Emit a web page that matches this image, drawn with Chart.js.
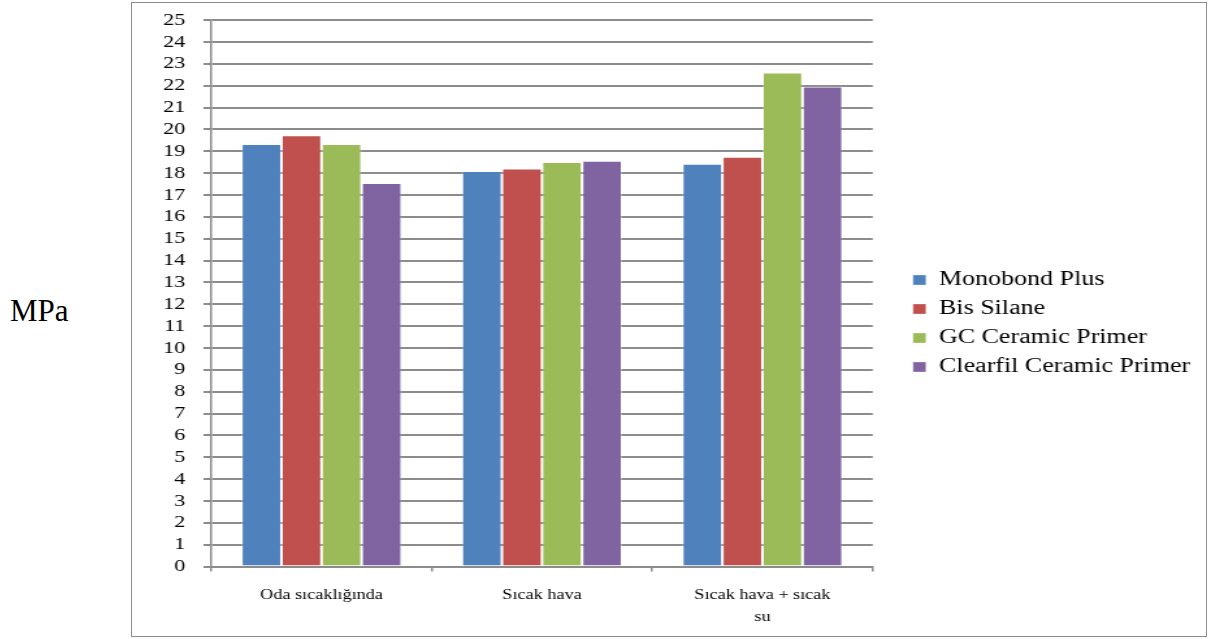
<!DOCTYPE html>
<html lang="tr">
<head>
  <meta charset="UTF-8" />
  <title>MPa</title>
  <script src="https://cdn.jsdelivr.net/npm/chart.js"></script>
  <style>
    body { margin: 0; background: #fff; width: 1213px; height: 639px; position: relative; overflow: hidden; }
    #unit { position: absolute; left: 10px; top: 295px; line-height: 1; font-family: "Liberation Serif", serif; font-size: 31px; color: #000; }
    #frame { position: absolute; left: 131px; top: 2px; width: 1074px; height: 633px; border: 1px solid #8c8c8c; overflow: hidden; }
    /* the original picture is stretched sideways, so the chart is drawn narrow and widened */
    #myChart { margin-top: -7px; transform: scaleX(1.3); transform-origin: 0 0; }
  </style>
</head>
<body>
  <span id="unit">MPa</span>
  <div id="frame">
    <canvas id="myChart" width="826" height="645"></canvas>
  </div>

  <script>
    const categories = ['Oda sıcaklığında', 'Sıcak hava', ['Sıcak hava + sıcak', 'su']];
    const seriesNames = ['Monobond Plus', 'Bis Silane', 'GC Ceramic Primer', 'Clearfil Ceramic Primer'];
    const monobond = [19.33, 18.10, 18.43];
    const bisSilane = [19.74, 18.22, 18.75];
    const gcPrimer = [19.33, 18.51, 22.61];
    const clearfil = [17.55, 18.57, 21.97];
    const yTicks = { min: 0, max: 25, step: 1 };

    const colors = ['#4f81bd', '#c0504d', '#9bbb59', '#8064a2'];
    const values = [monobond, bisSilane, gcPrimer, clearfil];

    // leave some space between the plot and the legend
    const legendGap = {
      id: 'legendGap',
      afterInit(chart) {
        const fit = chart.legend.fit;
        chart.legend.fit = function () { fit.call(this); this.width += 22; };
      },
      afterLayout(chart) {
        chart.legend.left += 22;
        chart.legend.top += 2;
      }
    };

    const ctx = document.getElementById('myChart').getContext('2d');
    new Chart(ctx, {
      type: 'bar',
      data: {
        labels: categories,
        datasets: seriesNames.map((name, i) => ({
          label: name,
          data: values[i],
          backgroundColor: colors[i],
          borderColor: 'rgba(255,255,255,0.3)',
          borderWidth: 1,
          barPercentage: 1,
          categoryPercentage: 0.727
        }))
      },
      plugins: [legendGap],
      options: {
        responsive: false,
        animation: false,
        layout: { padding: { left: 10, top: 8, right: 2, bottom: 0 } },
        plugins: {
          tooltip: { enabled: false },
          legend: {
            position: 'right',
            maxWidth: 400,
            labels: {
              boxWidth: 10,
              boxHeight: 10,
              padding: 9,
              color: '#000',
              font: { family: 'Liberation Serif', size: 20 }
            }
          }
        },
        scales: {
          x: {
            grid: { offset: true, drawOnChartArea: false, drawTicks: true, tickLength: 5, color: '#8c8c8c', lineWidth: 1.5 },
            border: { color: '#8c8c8c', width: 2 },
            ticks: { color: '#000', padding: 13, maxRotation: 0, font: { family: 'Liberation Serif', size: 14, lineHeight: 1.55 } }
          },
          y: {
            min: yTicks.min,
            max: yTicks.max,
            ticks: { stepSize: yTicks.step, autoSkip: false, color: '#000', padding: 14, font: { family: 'Liberation Serif', size: 17 } },
            grid: { color: '#8c8c8c', lineWidth: 2, tickLength: 6 },
            border: { color: '#8c8c8c', width: 1.5 }
          }
        }
      }
    });
  </script>
</body>
</html>
